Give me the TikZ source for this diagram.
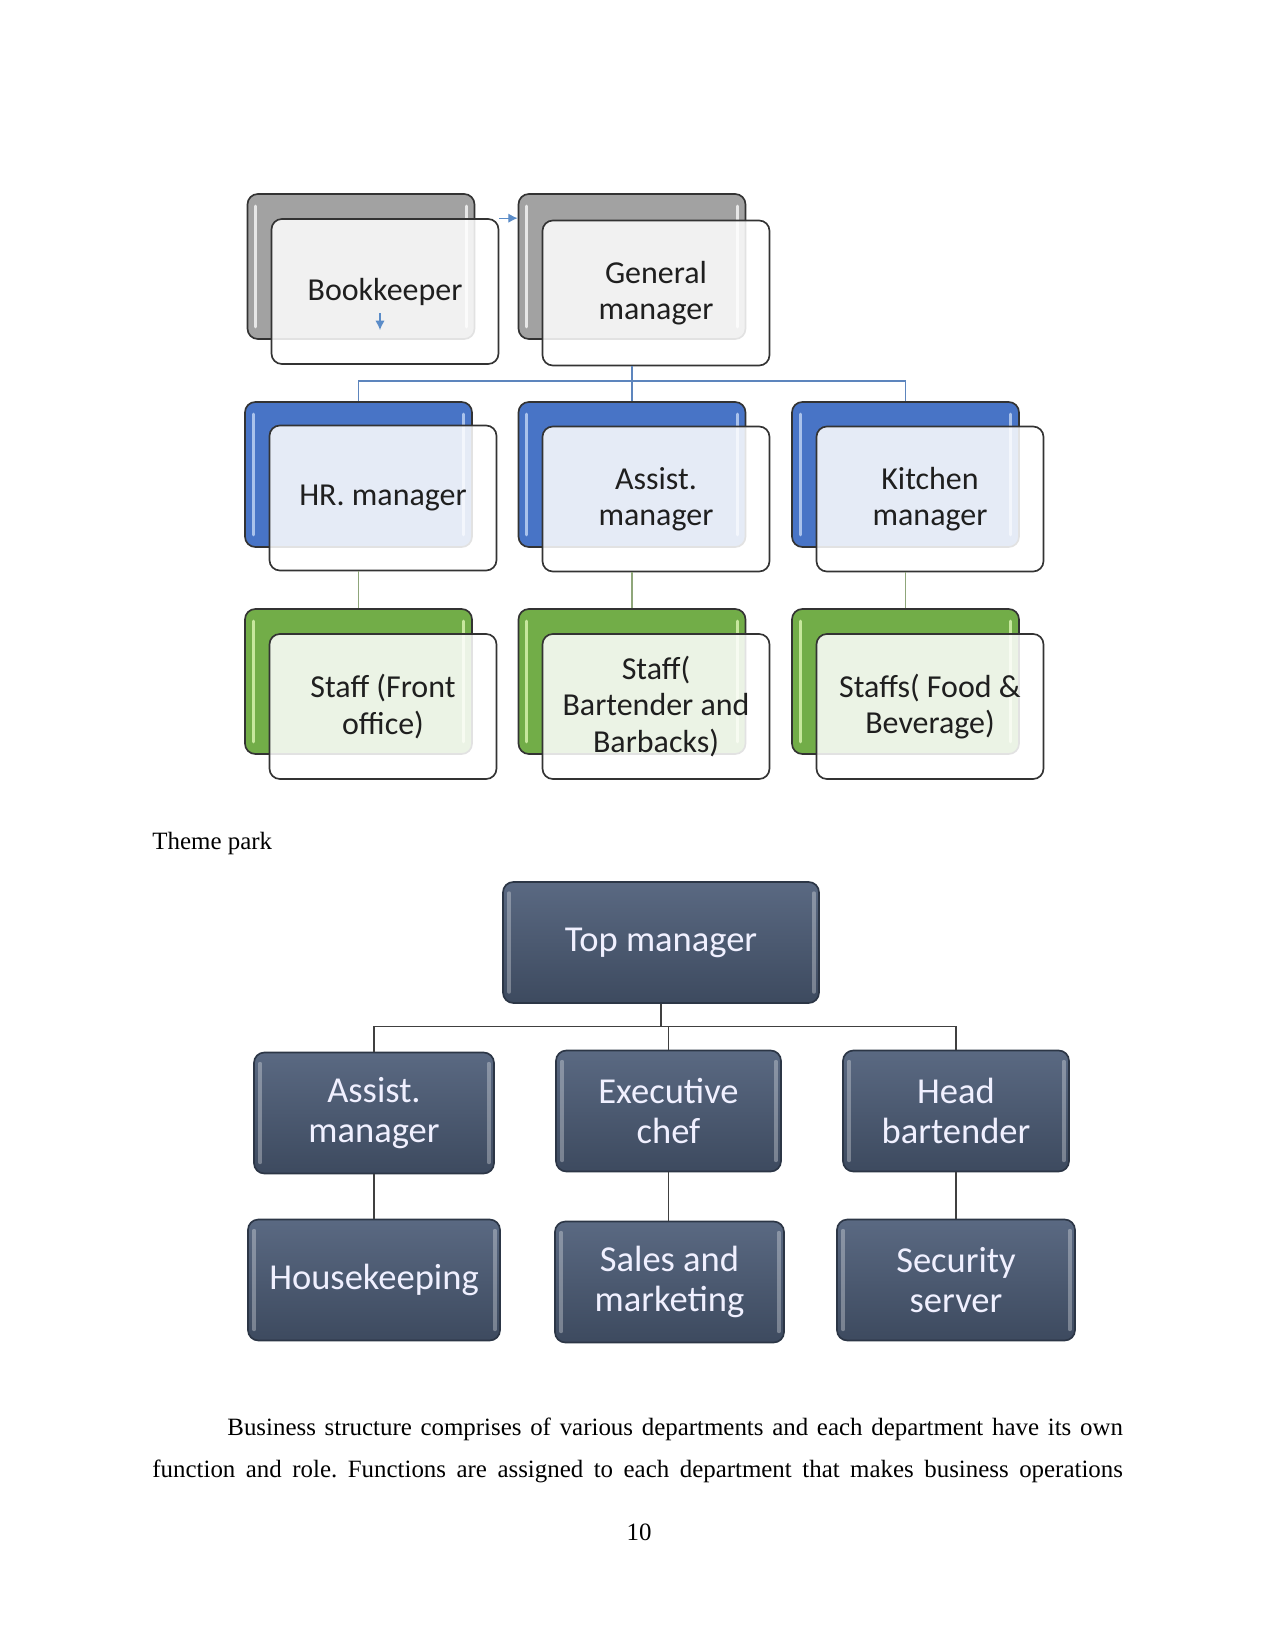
\documentclass[tikz,border=0pt]{standalone}
\usepackage{fontspec}
\setmainfont{Liberation Serif}
\newfontfamily\diafont{Carlito}
\usetikzlibrary{arrows.meta}
\frenchspacing
\definecolor{grayback}{HTML}{A2A2A2}
\definecolor{grayhl}{HTML}{F4F4F4}
\definecolor{blueback}{HTML}{4874C6}
\definecolor{bluehl}{HTML}{BCD0F2}
\definecolor{greenback}{HTML}{72AD48}
\definecolor{greenhl}{HTML}{D6F2AC}
\definecolor{blueline}{HTML}{5D85BD}
\definecolor{greenline}{HTML}{8FA67A}
\definecolor{slatetop}{HTML}{5A6982}
\definecolor{slatebot}{HTML}{3D4A5F}
\definecolor{slateedge}{HTML}{2C3646}
\definecolor{arrowblue}{HTML}{5B8CC8}
\newcommand\bbox[4]{%
  \node[backbox, fill=#3] (#1) at (#2) {};
  \draw[streak, #4] ([shift={(9,13)}]#1.north west) -- ([shift={(9,-13)}]#1.south west);
  \draw[streak, #4] ([shift={(-9,13)}]#1.north east) -- ([shift={(-9,-13)}]#1.south east);
}
\newcommand\slbox[4]{%
  \node[slatebox, minimum width={#3*0.169333mm}] (#1) at (#2) {#4};
  \draw[bevel] ([shift={(7,12)}]#1.north west) -- ([shift={(7,-12)}]#1.south west);
  \draw[bevel] ([shift={(-6,12)}]#1.north east) -- ([shift={(-6,-12)}]#1.south east);
}
\begin{document}
\begin{tikzpicture}[x=0.169333mm,y=-0.169333mm,
  backbox/.style={draw=black!80, line width=0.8pt, rounded corners=5pt,
    minimum width={227*0.169333mm}, minimum height={145*0.169333mm}, inner sep=0pt},
  frontbox/.style={backbox, fill=white, fill opacity=0.86, text opacity=1,
    text=black!88, align=center, font=\diafont\fontsize{15.4}{17.4}\selectfont},
  streak/.style={line width=1.4pt, line cap=round, opacity=0.85},
  slatebox/.style={draw=slateedge, line width=0.8pt, rounded corners=5pt,
    top color=slatetop, bottom color=slatebot, minimum height={121*0.169333mm},
    inner sep=0pt, align=center, text=white!94!blue,
    font=\diafont\fontsize{17.6}{19.2}\selectfont},
  bevel/.style={line width=1.8pt, line cap=round, white, opacity=0.3},
  bline/.style={draw=blueline, line width=0.75pt},
  gline/.style={draw=greenline, line width=0.7pt},
  dline/.style={draw=black!75, line width=0.75pt},
  arr/.style={draw=arrowblue, line width=0.6pt, -{Latex[length=4.5pt,width=4.5pt]}},
  txt/.style={inner sep=0pt, anchor=base west, font=\fontsize{12}{14.5}\selectfont}
]
\useasboundingbox[fill=white] (0,0) rectangle (1275,1651);

\coordinate (bus1) at (0,381);
\coordinate (bus2) at (0,1026.5);

% ---------- top chart: back boxes ----------
\bbox{bkb}{361,266.5}{grayback}{grayhl}
\bbox{gmb}{632,266.5}{grayback}{grayhl}
\bbox{hrb}{358.5,474.5}{blueback}{bluehl}
\bbox{asb}{632,474.5}{blueback}{bluehl}
\bbox{kib}{905.5,474.5}{blueback}{bluehl}
\bbox{sfb}{358.5,681.5}{greenback}{greenhl}
\bbox{sbb}{632,681.5}{greenback}{greenhl}
\bbox{ssb}{905.5,681.5}{greenback}{greenhl}

% ---------- top chart: front boxes ----------
\node[frontbox] (bkf) at (385,291.5) {Bookkeeper};
\node[frontbox] (gmf) at (656,293) {General\\manager};
\node[frontbox] (hrf) at (383,498) {HR. manager};
\node[frontbox] (asf) at (656,499) {Assist.\\manager};
\node[frontbox] (kif) at (930,499) {Kitchen\\manager};
\node[frontbox] (sff) at (383,706.5) {Staff (Front\\office)};
\node[frontbox] (sbf) at (656,706.5) {Staff(\\Bartender and\\Barbacks)};
\node[frontbox] (ssf) at (930,706.5) {Staffs( Food \&\\Beverage)};

% connectors (top chart)
\draw[bline] (gmb.center |- gmf.south) -- (asb.north);
\draw[bline] (hrb.north) -- (hrb.north |- bus1) -- (kib.north |- bus1) -- (kib.north);
\draw[gline] (hrb.center |- hrf.south) -- (sfb.north);
\draw[gline] (asb.center |- asf.south) -- (sbb.north);
\draw[gline] (kib.center |- kif.south) -- (ssb.north);

% small arrows
\draw[arr] (bkf.north east) -- (gmb.west |- bkf.north east);
\coordinate (da) at (380,313);
\coordinate (db) at (380,330);
\draw[arr] (da) -- (db);

% ---------- caption ----------
\node[txt] (theme) at (152,849) {Theme park};

% ---------- bottom chart ----------
\slbox{top}{661,942.5}{316}{Top manager}
\slbox{am}{374,1113}{240}{Assist.\\manager}
\slbox{ec}{668.5,1111}{225}{Executive\\chef}
\slbox{hb}{956,1111}{226}{Head\\bartender}
\slbox{hk}{374,1280}{252}{Housekeeping}
\slbox{sm}{669.5,1282}{229}{Sales and\\marketing}
\slbox{sc}{956,1280}{238}{Security\\server}

\draw[dline] (top.south) -- (top.south |- bus2);
\draw[dline] (am.north) -- (am.north |- bus2) -- (hb.north |- bus2) -- (hb.north);
\draw[dline] (ec.north) -- (ec.north |- bus2);
\draw[dline] (am.south) -- (hk.north);
\draw[dline] (ec.south) -- (ec.south |- sm.north);
\draw[dline] (hb.south) -- (sc.north);

% ---------- body text ----------
\node[txt] (p1) at (227,1435) {\makebox[5.97in][s]{Business structure comprises of various departments and each department have its own}};
\node[txt] (p2) at (152,1477) {\makebox[6.47in][s]{function and role. Functions are assigned to each department that makes business operations}};
\node[txt, anchor=base] (pg) at (639,1540) {10};
\end{tikzpicture}
\end{document}
